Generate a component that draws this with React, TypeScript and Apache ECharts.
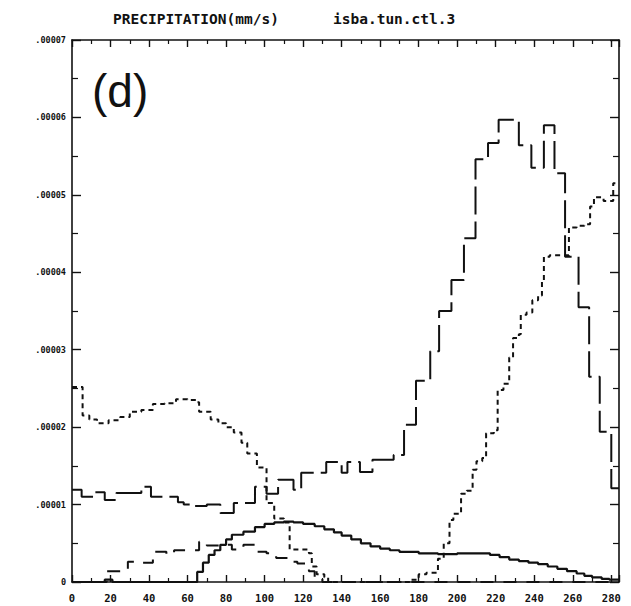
import React, { useEffect, useRef } from "react";
import * as echarts from "echarts";

// Values in units of 1e-5 mm/s ; x = time index
const X_MAX = 284;
const X_TICKS_STEP = 20;
const Y_TICKS = [0, 1, 2, 3, 4, 5, 6, 7];

const titleLeft = "PRECIPITATION(mm/s)";
const titleRight = "isba.tun.ctl.3";
const panelLabel = "(d)";

const longDash: [number, number][] = [
  [0, 1.19], [5, 1.1], [11, 1.16], [17, 1.06], [23, 1.15], [36, 1.23], [41, 1.1],
  [55, 1.03], [58, 1.0], [62, 0.98], [70, 1.0], [77, 0.89], [84, 1.02], [95, 1.23],
  [101, 1.14], [107, 1.32], [115, 1.19], [119, 1.41], [132, 1.55], [140, 1.41],
  [143, 1.55], [149.5, 1.42], [156, 1.58], [167, 1.64], [172.4, 2.03], [178.6, 2.6],
  [186, 2.98], [190.6, 3.5], [197, 3.9], [203.5, 4.44], [209.5, 5.46], [216, 5.67],
  [221.5, 5.97], [232, 5.64], [238.5, 5.35], [245, 5.9], [250.5, 5.28], [256, 4.2],
  [263, 3.55], [268.5, 2.65], [274, 1.94], [280, 1.21], [284, 1.21],
];

const shortDash: [number, number][] = [
  [0, 2.52], [5.5, 2.15], [9, 2.1], [13, 2.05], [19, 2.09], [25, 2.13], [30, 2.2],
  [36, 2.22], [42, 2.3], [48, 2.31], [54, 2.36], [60, 2.35], [65, 2.32], [66, 2.2],
  [72, 2.1], [76, 2.05], [80, 2.0], [84, 1.93], [88, 1.8], [91, 1.66], [96, 1.48],
  [101, 1.02], [105, 0.82], [110, 0.77], [113, 0.42], [118, 0.42], [123, 0.37],
  [124.5, 0.2], [127, 0.1], [131, 0.06], [133, 0], [176, 0.03], [180, 0.1], [184, 0.12],
  [190, 0.3], [193, 0.5], [196, 0.8], [198, 0.88], [202, 1.14], [205, 1.18], [208, 1.45],
  [210, 1.56], [213, 1.6], [215, 1.92], [219, 1.96], [221, 2.48], [224, 2.56], [227, 2.9],
  [229, 3.15], [232, 3.2], [233, 3.45], [236, 3.48], [239, 3.64], [242, 3.7], [244, 3.9],
  [245, 4.2], [248, 4.22], [258, 4.58], [262, 4.6], [266, 4.62], [269, 4.85], [271, 4.97],
  [276, 4.92], [281, 5.15], [284, 5.15],
];

const mediumDash: [number, number][] = [
  [0, 0], [18, 0.14], [29, 0.26], [34, 0.25], [42, 0.39], [49, 0.36], [53, 0.41],
  [66, 0.52], [70, 0.47], [77, 0.48], [83, 0.42], [89, 0.48], [95, 0.39], [101, 0.37],
  [106, 0.31], [112, 0.26], [117, 0.24], [123, 0.14], [126, 0.06], [130, 0], [284, 0],
];

const solid: [number, number][] = [
  [0, 0], [17, 0.03], [21, 0], [64, 0.0], [65, 0.13], [68, 0.25], [71, 0.35], [74, 0.41],
  [77, 0.48], [80, 0.55], [83, 0.61], [89, 0.65], [95, 0.71], [100, 0.75], [105, 0.77],
  [110, 0.78], [115, 0.77], [120, 0.75], [126, 0.72], [131, 0.68], [136, 0.64], [140, 0.6],
  [145, 0.55], [150, 0.5], [155, 0.46], [160, 0.43], [165, 0.41], [170, 0.39], [180, 0.37],
  [190, 0.36], [200, 0.37], [212, 0.37], [217, 0.35], [222, 0.32], [227, 0.29], [232, 0.27],
  [237, 0.25], [242, 0.23], [247, 0.2], [252, 0.17], [257, 0.14], [262, 0.11], [266, 0.08],
  [270, 0.06], [275, 0.04], [279, 0.03], [284, 0.03],
];

const INK = "#111";
const MONO = "'DejaVu Sans Mono', 'Liberation Mono', monospace";

export default function App() {
  const ref = useRef<HTMLDivElement>(null);
  useEffect(() => {
    if (!ref.current) return;
    const chart = echarts.init(ref.current, undefined, { renderer: "svg" });
    const lineSeries = (data: [number, number][], dash: number[] | "solid", width = 2) => ({
      type: "line",
      data,
      step: "end",
      symbol: "none",
      silent: true,
      lineStyle: { color: INK, width, type: dash },
    });
    const axisLineStyle = { color: INK, width: 1.6 };
    const xTick = { show: true, inside: true, length: 7, lineStyle: { color: INK, width: 1.4 } };
    const xMinor = { show: true, splitNumber: 2, length: 4, lineStyle: { color: INK, width: 1.2 } };
    const yTick = { show: true, inside: true, length: 9, lineStyle: { color: INK, width: 1.4 } };
    const yMinor = { show: true, splitNumber: 2, length: 6, lineStyle: { color: INK, width: 1.2 } };
    chart.setOption({
      animation: false,
      backgroundColor: "#fff",
      grid: { left: 72, right: 12, top: 40, bottom: 24 },
      xAxis: [
        {
          type: "value",
          min: 0,
          max: X_MAX,
          interval: X_TICKS_STEP,
          position: "bottom",
          axisLine: { show: true, onZero: false, lineStyle: axisLineStyle },
          axisTick: xTick,
          minorTick: xMinor,
          splitLine: { show: false },
          axisLabel: {
            showMaxLabel: false,
            margin: 10,
            color: INK,
            fontFamily: MONO,
            fontWeight: "bold",
            fontSize: 10.5,
            formatter: (v: number) => String(v),
          },
        },
        {
          type: "value",
          min: 0,
          max: X_MAX,
          interval: X_TICKS_STEP,
          position: "top",
          axisLine: { show: true, onZero: false, lineStyle: axisLineStyle },
          axisTick: xTick,
          minorTick: xMinor,
          splitLine: { show: false },
          axisLabel: { show: false },
        },
      ],
      yAxis: [
        {
          type: "value",
          min: Y_TICKS[0],
          max: Y_TICKS[Y_TICKS.length - 1],
          interval: 1,
          position: "left",
          axisLine: { show: true, onZero: false, lineStyle: axisLineStyle },
          axisTick: yTick,
          minorTick: yMinor,
          splitLine: { show: false },
          axisLabel: {
            margin: 6,
            color: INK,
            fontFamily: MONO,
            fontWeight: "bold",
            fontSize: 8.5,
            formatter: (v: number) => (v === 0 ? "0" : ".0000" + v),
          },
        },
        {
          type: "value",
          min: Y_TICKS[0],
          max: Y_TICKS[Y_TICKS.length - 1],
          interval: 1,
          position: "right",
          axisLine: { show: true, onZero: false, lineStyle: axisLineStyle },
          axisTick: yTick,
          minorTick: yMinor,
          splitLine: { show: false },
          axisLabel: { show: false },
        },
      ],
      graphic: [
        {
          type: "text",
          left: 113,
          top: 11,
          style: { text: titleLeft, fill: INK, font: `bold 14.5px ${MONO}` },
        },
        {
          type: "text",
          left: 333,
          top: 11,
          style: { text: titleRight, fill: INK, font: `bold 14.5px ${MONO}` },
        },
        {
          type: "text",
          left: 92,
          top: 68,
          style: { text: panelLabel, fill: INK, font: `46px 'Liberation Sans', Arial, sans-serif` },
        },
      ],
      series: [
        lineSeries(longDash, [28, 7]),
        lineSeries(shortDash, [5, 4]),
        lineSeries(mediumDash, [13, 10]),
        lineSeries(solid, "solid", 2.2),
      ],
    });
    return () => chart.dispose();
  }, []);
  return (
    <div
      ref={ref}
      style={{ position: "fixed", left: 0, top: 0, width: 631, height: 606, background: "#fff" }}
    />
  );
}
